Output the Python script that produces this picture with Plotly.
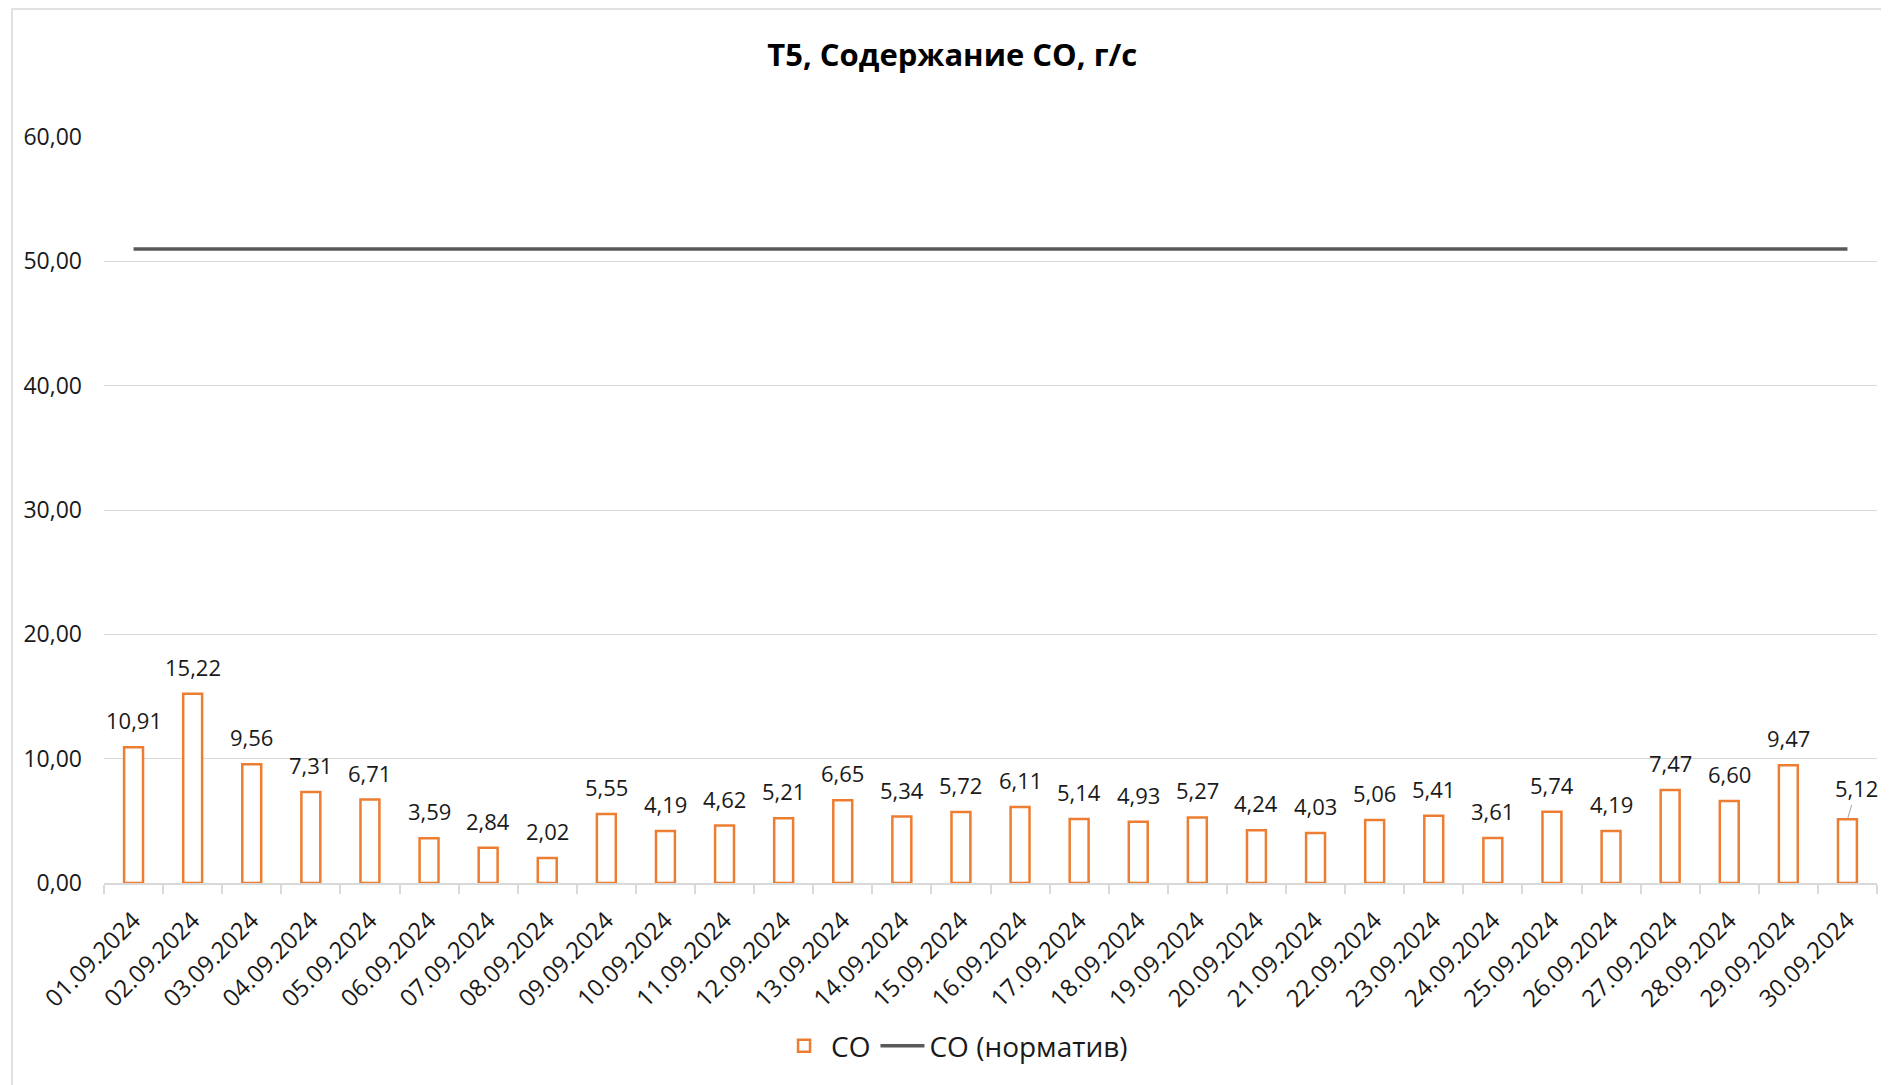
import plotly.graph_objects as go

dates = ["01.09.2024", "02.09.2024", "03.09.2024", "04.09.2024", "05.09.2024",
         "06.09.2024", "07.09.2024", "08.09.2024", "09.09.2024", "10.09.2024",
         "11.09.2024", "12.09.2024", "13.09.2024", "14.09.2024", "15.09.2024",
         "16.09.2024", "17.09.2024", "18.09.2024", "19.09.2024", "20.09.2024",
         "21.09.2024", "22.09.2024", "23.09.2024", "24.09.2024", "25.09.2024",
         "26.09.2024", "27.09.2024", "28.09.2024", "29.09.2024", "30.09.2024"]
co_values = [10.91, 15.22, 9.56, 7.31, 6.71, 3.59, 2.84, 2.02, 5.55, 4.19,
             4.62, 5.21, 6.65, 5.34, 5.72, 6.11, 5.14, 4.93, 5.27, 4.24,
             4.03, 5.06, 5.41, 3.61, 5.74, 4.19, 7.47, 6.60, 9.47, 5.12]
co_norm = [51.0] * 30
y_ticks = [0, 10, 20, 30, 40, 50, 60]

FONT = "Open Sans"
TXT = "#1a1a1a"

texts = [f"{v:.2f}".replace(".", ",") for v in co_values]

W, H = 1881, 1077

fig = go.Figure()
fig.add_trace(go.Bar(
    x=dates, y=co_values, name="CO",
    marker=dict(color="white", line=dict(color="#ED7D31", width=2.5)),
    width=0.32, cliponaxis=False,
))
fig.add_trace(go.Scatter(
    x=dates, y=co_norm, name="CO (норматив)", mode="lines",
    line=dict(color="#595959", width=3.5),
))

# data labels
n = len(dates)
for i, (d, v, t) in enumerate(zip(dates, co_values, texts)):
    if i == n - 1:
        fig.add_annotation(
            x=d, y=v, text=t,
            showarrow=True, arrowhead=0, arrowwidth=1, arrowcolor="#a6a6a6",
            ax=9, ay=-31, xanchor="center", yanchor="middle",
            font=dict(family=FONT, size=22, color=TXT),
        )
    else:
        fig.add_annotation(
            x=d, y=v, text=t, showarrow=False,
            xanchor="center", yanchor="middle", yshift=27,
            font=dict(family=FONT, size=22, color=TXT),
        )

fig.add_shape(type="rect", xref="paper", yref="paper",
              x0=-0.0519, x1=1.05, y0=-0.5, y1=1.1716,
              line=dict(color="#d9d9d9", width=1.5), fillcolor="rgba(0,0,0,0)", layer="below")

fig.update_layout(
    width=W, height=H,
    margin=dict(l=96, r=12, t=129, b=202),
    paper_bgcolor="white", plot_bgcolor="white",
    separators=", ",
    title=dict(text="<b>Т5, Содержание СО, г/с</b>", x=0.502, xref="container", xanchor="center",
               y=1 - 47 / H, yanchor="middle",
               font=dict(family=FONT, size=31, color="black")),
    showlegend=True,
    legend=dict(orientation="h", x=0.48, xanchor="center", y=-0.2185, yanchor="middle",
                font=dict(family=FONT, size=28, color=TXT), itemwidth=44,
                traceorder="normal"),
    font=dict(family=FONT, color=TXT),
)
fig.update_xaxes(
    type="category", range=[-0.5, 29.5],
    tickangle=-45, tickfont=dict(family=FONT, size=24, color=TXT),
    showline=True, linecolor="#d9d9d9", linewidth=1.5,
    ticks="outside", tickson="boundaries", ticklen=9, tickcolor="#d9d9d9", tickwidth=1.5,
    showgrid=False, ticklabelstandoff=12,
)
fig.update_yaxes(
    range=[0, 60], tickvals=y_ticks, tickformat=".2f",
    tickfont=dict(family=FONT, size=23, color=TXT),
    showgrid=True, gridcolor="#d9d9d9", gridwidth=1.3,
    zeroline=False, showline=False, ticks="", ticklabelstandoff=21,
)

fig.write_html("out.html")
